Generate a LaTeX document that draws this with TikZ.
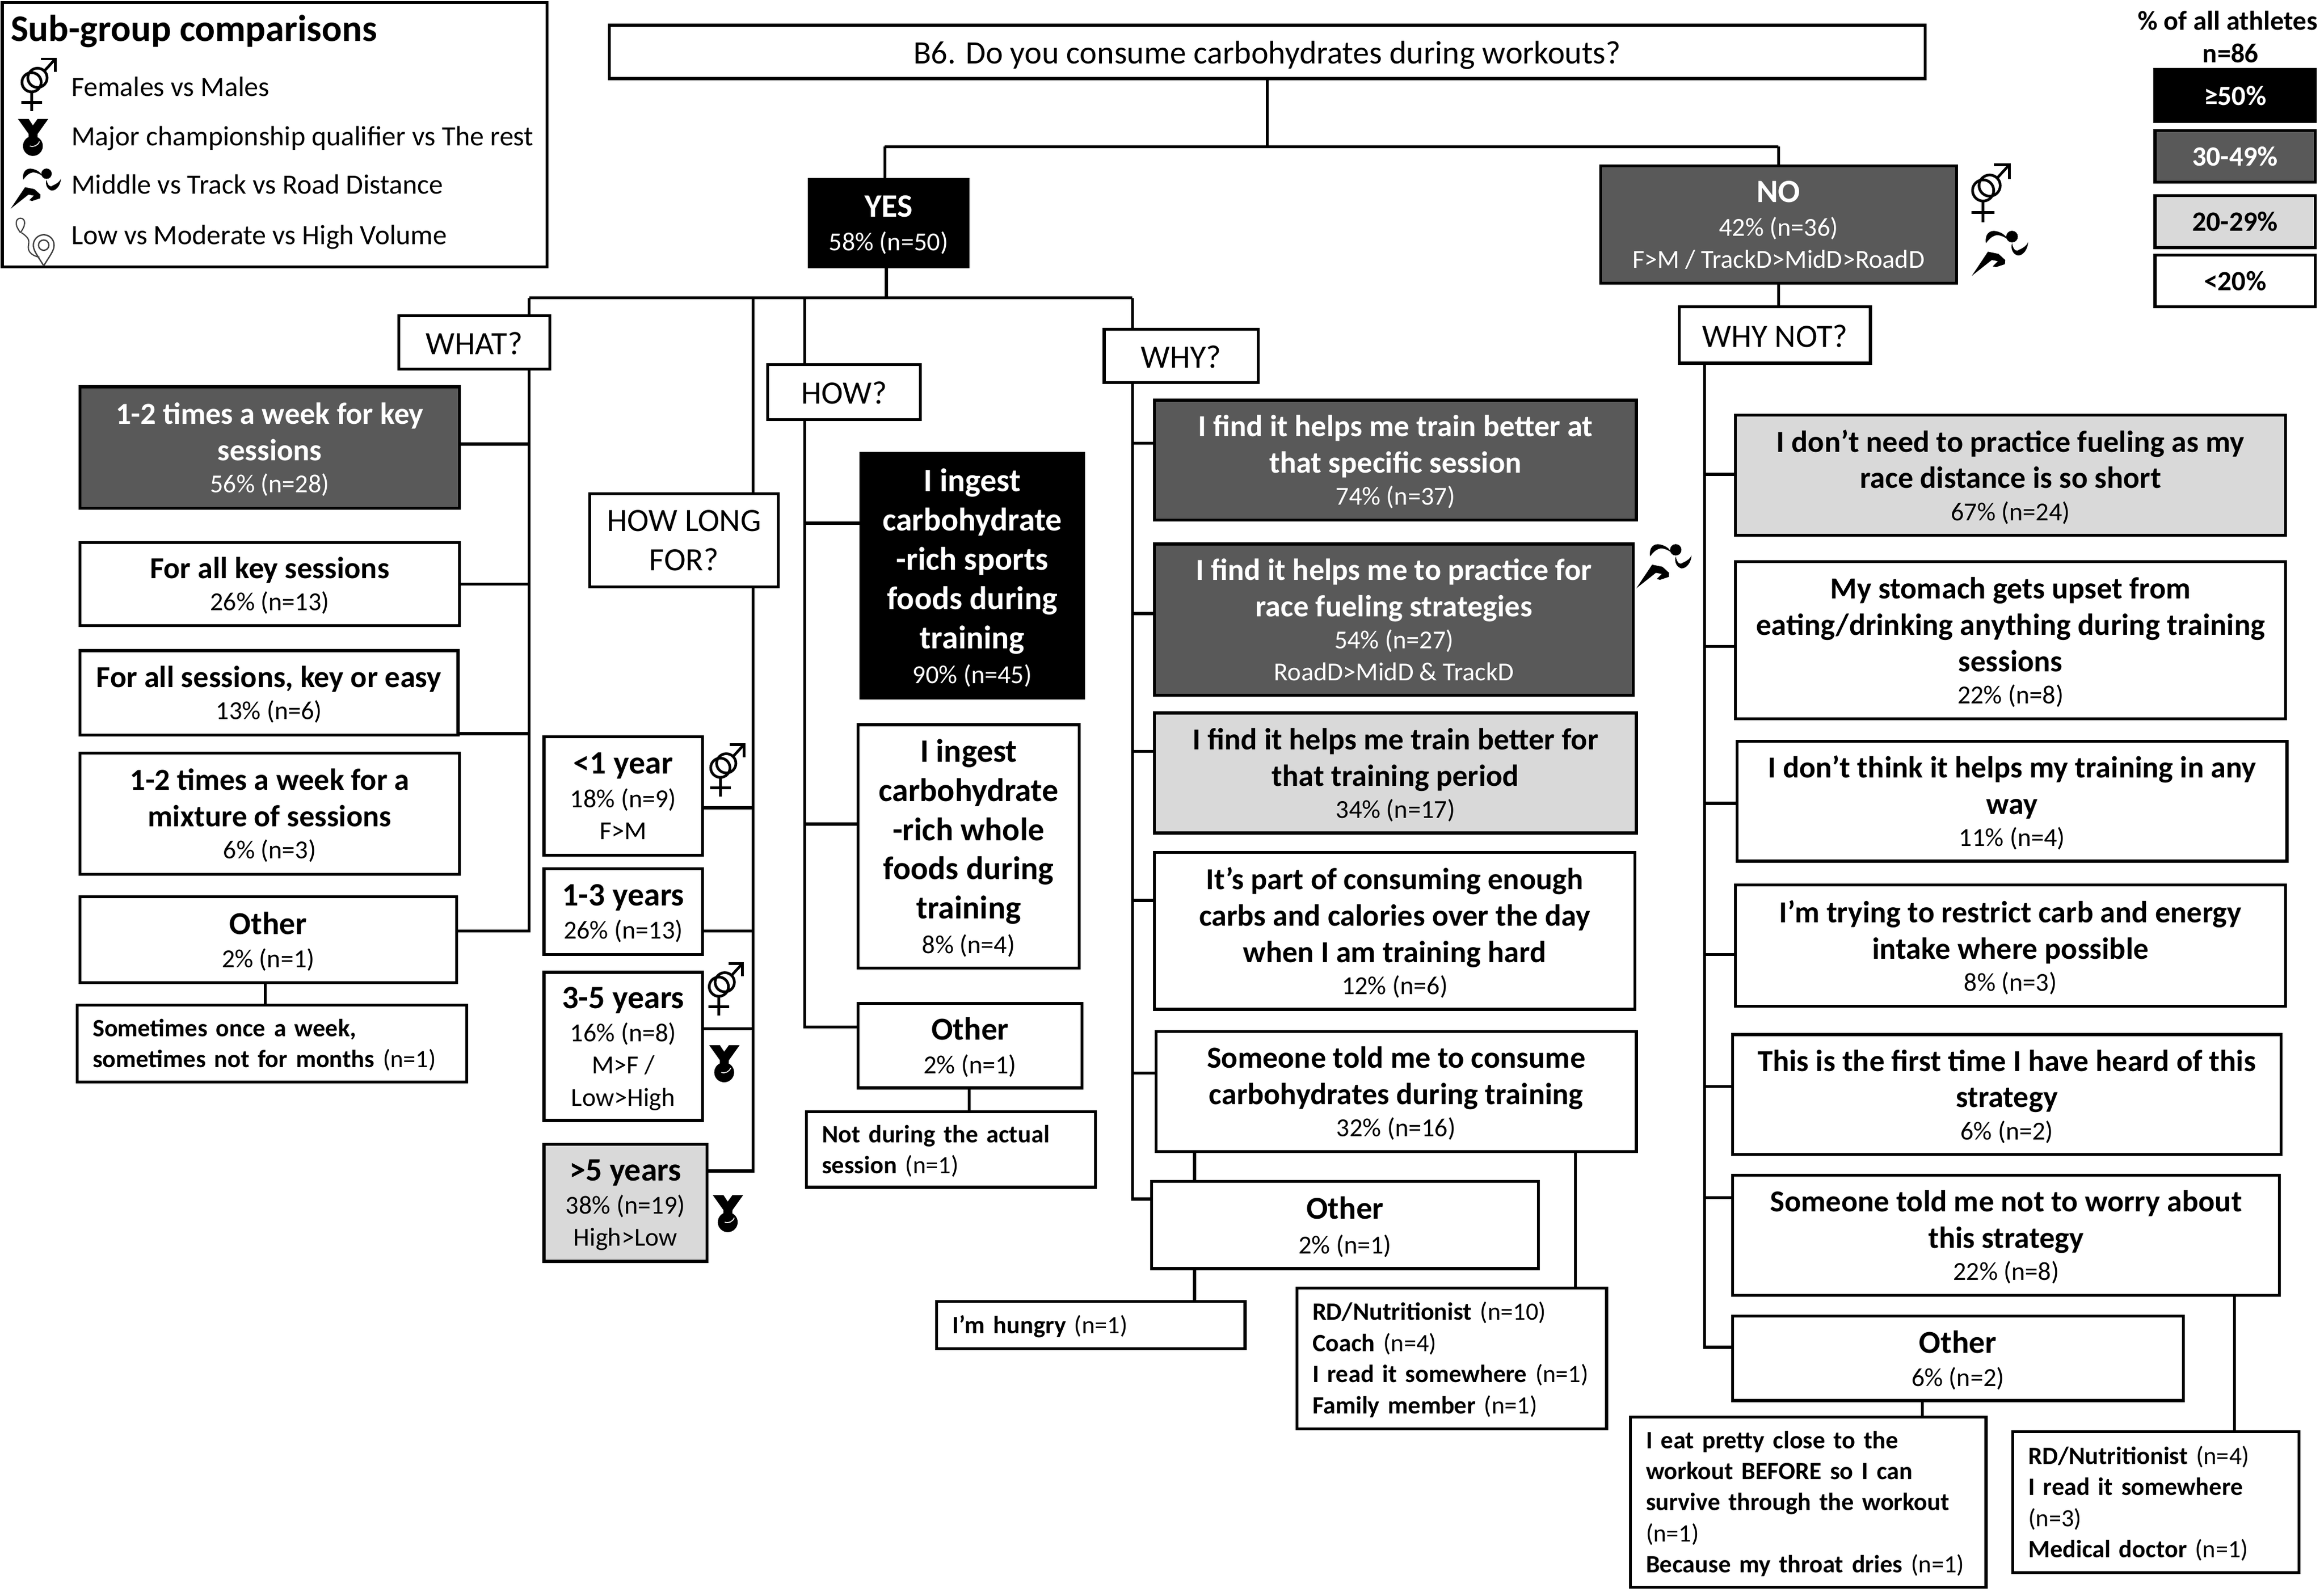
\documentclass[tikz,border=0pt]{standalone}
\usepackage{fontspec}
\setmainfont{Carlito}
\definecolor{DarkBand}{HTML}{595959}
\definecolor{LightBand}{HTML}{D9D9D9}
\newcommand{\pct}[1]{\smash{\fontsize{17.5}{20}\selectfont\mdseries #1}}
\newcommand{\nn}[1]{{\mdseries #1}}
\tikzset{
  corners/.style n args={4}{at={({(#1+#3)/2},{(#2+#4)/2})},minimum width={(#3-#1-2)*1pt},minimum height={(#4-#2-2)*1pt}},
  notecorners/.style n args={4}{corners={#1}{#2}{#3}{#4},text width={(#3-#1-23)*1pt}},
  link/.style={line width=2pt},
  tallybox/.style={draw=black,line width=2pt,inner sep=0pt,align=center,font=\fontsize{20.6}{24.6}\selectfont\bfseries},
  lvlblack/.style={tallybox,fill=black,text=white},
  lvldark/.style={tallybox,fill=DarkBand,text=white},
  lvllight/.style={tallybox,fill=LightBand},
  lvlwhite/.style={tallybox,fill=white},
  bigtext/.style={font=\fontsize{22}{24.6}\selectfont\bfseries},
  othertext/.style={font=\fontsize{21.6}{24.6}\selectfont\bfseries},
  steptext/.style={font=\fontsize{22}{26.5}\selectfont\bfseries},
  askbox/.style={tallybox,fill=white,font=\fontsize{22}{26.5}\selectfont,execute at begin node={\rule{0pt}{0.75em}}},
  notebox/.style={draw=black,line width=2pt,inner sep=0pt,align=left,fill=white,font=\fontsize{16.8}{21}\selectfont\bfseries,execute at begin node={\rule{0pt}{14pt}}},
  keytext/.style={anchor=west,inner sep=0pt,font=\fontsize{18.85}{22}\selectfont},
  scaletitle/.style={inner sep=0pt,font=\fontsize{18.4}{21}\selectfont\bfseries},
  scalebox/.style={tallybox,font=\fontsize{18.8}{21}\selectfont\bfseries},
  pics/gendersym/.style={code={
    \draw[line width=1.8pt] (0,0) circle[radius=6.5pt] (4,-3) circle[radius=6.5pt];
    \draw[line width=1.8pt] (8.6,-7.6) -- (16,-15.7);
    \draw[line width=1.8pt] (6.5,-15.7) -- (16,-15.7) -- (16,-7);
    \draw[line width=1.8pt] (0,6.5) -- (0,19.5) (-7,13.5) -- (7,13.5);
  }},
  pics/medalsym/.style={code={
    \fill (-10.1,-18.3) -- (-2.9,-18.3) -- (0,-13.9) -- (3.2,-18.3) -- (10.4,-18.3) -- (3.2,-8.2) -- (3,-5) -- (-3,-5) -- (-2.9,-8.2) -- cycle;
    \fill (0,0) circle[radius=6.7pt];
    \draw[white,line width=0.6pt] (4.4,-3) arc[start angle=-20,end angle=-110,radius=5pt];
  }},
  pics/runnersym/.style={code={
    \fill (24.2,3.6) circle[radius=3.5pt];
    \fill (8.5,7.6) .. controls (7.5,2) and (11,-0.5) .. (14.5,0.3) .. controls (18,1) and (20.5,3) .. (21.3,5) .. controls (18,2.8) and (15,2.2) .. (13.3,3.2) .. controls (11.5,4) and (10,5.5) .. (8.5,7.6) -- cycle;
    \fill (24.2,7.6) .. controls (25,12) and (27,13) .. (28.5,11.5) .. controls (31,10.5) and (33,9) .. (33.9,7) .. controls (33.5,12) and (30.5,15) .. (27.8,15) .. controls (25,14.5) and (23,11) .. (24.2,7.6) -- cycle;
    \fill (0,27.2) -- (9.7,12.7) -- (16,14) -- (20.1,17.7) -- (19.9,20.2) -- (14.5,22) -- (12.6,21.5) -- (15.7,18.4) -- (12,17.7) -- cycle;
  }},
  pics/routesym/.style={code={
    \draw[line width=0.8pt,black!75] (13.8,157) .. controls (11,153) and (10.8,151.5) .. (11,150) arc[start angle=180,end angle=0,radius=2.8pt] .. controls (16.6,151.5) and (16.5,153) .. (13.8,157);
    \draw[line width=0.8pt,black!75] (14.5,157) .. controls (19,160) and (20,162) .. (19.3,165) .. controls (18.5,169) and (20,172) .. (26.6,173.6);
    \draw[line width=0.9pt,black!75] (29.5,179.3) .. controls (25,172) and (22.5,169) .. (22.5,165.4) arc[start angle=180,end angle=0,radius=7pt] .. controls (36.5,169) and (34,172) .. (29.5,179.3);
    \draw[line width=0.9pt,black!75] (29.5,165.4) circle[radius=3.5pt];
  }},
}
\begin{document}
\begin{tikzpicture}[x=1pt,y=-1pt]
  \useasboundingbox (0,0) rectangle (1568,1073.8);
  % legend, top left
  \node[draw=black,line width=2pt,inner sep=0pt,corners={0.5}{0.8}{370}{181}] (keyframe) {};
  \node[anchor=west,inner sep=0pt,font=\fontsize{25.3}{28}\selectfont\bfseries] (keytitle) at (7,21) {Sub-group comparisons};
  \node[keytext] (keyfem) at (48,58.5) {Females vs Males};
  \node[keytext] (keymajor) at (48,93.5) {Major championship qualifier vs The rest};
  \node[keytext] (keydist) at (48,124.5) {Middle vs Track vs Road Distance};
  \node[keytext] (keyvol) at (48,160) {Low vs Moderate vs High Volume};
  \pic at (21.3,55.5) {gendersym};
  \pic at (22.2,98.5) {medalsym};
  \pic at (7.2,113.6) {runnersym};
  \pic at (0,0) {routesym};
  % legend, top right
  \node[scaletitle] (scalehead) at (1503,14) {\% of all athletes};
  \node[scaletitle] (scalen) at (1505,36) {n=86};
  \node[scalebox,fill=black,text=white,corners={1453}{46}{1563}{83}] (scalea) {≥50\%};
  \node[scalebox,fill=DarkBand,text=white,corners={1453}{87}{1563}{124}] (scaleb) {30-49\%};
  \node[scalebox,fill=LightBand,corners={1453}{131}{1563}{168}] (scalec) {20-29\%};
  \node[scalebox,fill=white,corners={1453}{171}{1563}{208}] (scaled) {<20\%};
  % question and answers
  \node[askbox,corners={410}{16}{1300}{54},execute at begin node={\rule{0pt}{0.9em}}] (question) {B6. Do you consume carbohydrates during workouts?};
  \node[lvlblack,bigtext,corners={545}{120}{654}{181}] (yes) {YES\\[-2pt]\pct{58\% (n=50)}};
  \node[lvldark,bigtext,corners={1079}{111}{1321}{192}] (no) {NO\\[-2pt]\pct{42\% (n=36)}\\[-3pt]\pct{F>M / TrackD>MidD>RoadD}};
  \pic[scale=1.1] at (1338,128.5) {gendersym};
  \pic[scale=1.12] at (1330.4,155.6) {runnersym};
  % WHAT?
  \node[askbox,corners={268}{212}{372}{250}] (what) {WHAT?};
  \node[lvldark,corners={53}{260}{311}{344}] (whatA) {1-2 times a week for key\\sessions\\[-3pt]\pct{56\% (n=28)}};
  \node[lvlwhite,corners={53}{365}{311}{423}] (whatB) {For all key sessions\\[-3pt]\pct{26\% (n=13)}};
  \node[lvlwhite,corners={53}{438}{310}{497}] (whatC) {For all sessions, key or easy\\[-3pt]\pct{13\% (n=6)}};
  \node[lvlwhite,corners={53}{507}{311}{591}] (whatD) {1-2 times a week for a\\mixture of sessions\\[-3pt]\pct{6\% (n=3)}};
  \node[lvlwhite,othertext,corners={53}{604}{309}{664}] (whatE) {Other\\[-2pt]\pct{2\% (n=1)}};
  \node[notebox,notecorners={51}{677}{316}{731}] (whatnote) {Sometimes once a week,\\sometimes not for months \nn{(n=1)}};
  % HOW LONG FOR?
  \node[askbox,corners={397}{332}{526}{397}] (howlong) {HOW LONG\\FOR?};
  \node[lvlwhite,bigtext,corners={366}{496}{475}{578}] (longA) {<1 year\\[-2pt]\pct{18\% (n=9)}\\[-3pt]\pct{F>M}};
  \node[lvlwhite,bigtext,corners={366}{585}{475}{645}] (longB) {1-3 years\\[-2pt]\pct{26\% (n=13)}};
  \node[lvlwhite,bigtext,corners={366}{655}{475}{757}] (longC) {3-5 years\\[-2pt]\pct{16\% (n=8)}\\[-3pt]\pct{M>F /}\\[-3pt]\pct{Low>High}};
  \node[lvllight,bigtext,corners={366}{771}{478}{852}] (longD) {>5 years\\[-2pt]\pct{38\% (n=19)}\\[-3pt]\pct{High>Low}};
  \pic at (486,518) {gendersym};
  \pic at (485,665.7) {gendersym};
  \pic at (488.6,723.5) {medalsym};
  \pic at (491,824.6) {medalsym};
  % HOW?
  \node[askbox,corners={517}{245}{622}{284}] (how) {HOW?};
  \node[lvlblack,steptext,corners={580}{305}{732}{472}] (howA) {I ingest\\carbohydrate\\-rich sports\\foods during\\training\\[-3pt]\pct{90\% (n=45)}};
  \node[lvlwhite,steptext,corners={578}{488}{729}{654}] (howB) {I ingest\\carbohydrate\\-rich whole\\foods during\\training\\[-3pt]\pct{8\% (n=4)}};
  \node[lvlwhite,othertext,corners={578}{676}{731}{735}] (howC) {Other\\[-2pt]\pct{2\% (n=1)}};
  \node[notebox,notecorners={543}{749}{740}{802}] (hownote) {Not during the actual\\session \nn{(n=1)}};
  % WHY?
  \node[askbox,corners={744}{221}{850}{259}] (why) {WHY?};
  \node[lvldark,corners={778}{269}{1105}{352}] (whyA) {I find it helps me train better at\\that specific session\\[-3pt]\pct{74\% (n=37)}};
  \node[lvldark,corners={778}{366}{1103}{470}] (whyB) {I find it helps me to practice for\\race fueling strategies\\[-3pt]\pct{54\% (n=27)}\\[-3pt]\pct{RoadD>MidD \& TrackD}};
  \node[lvllight,corners={778}{480}{1105}{563}] (whyC) {I find it helps me train better for\\that training period\\[-3pt]\pct{34\% (n=17)}};
  \node[lvlwhite,corners={778}{574}{1104}{682}] (whyD) {It’s part of consuming enough\\carbs and calories over the day\\when I am training hard\\[-3pt]\pct{12\% (n=6)}};
  \node[lvlwhite,corners={779}{695}{1105}{778}] (whyE) {Someone told me to consume\\carbohydrates during training\\[-3pt]\pct{32\% (n=16)}};
  \node[lvlwhite,corners={776}{796}{1039}{857},font=\fontsize{21.5}{25.5}\selectfont\bfseries] (whyF) {Other\\[-2pt]\pct{2\% (n=1)}};
  \node[notebox,notecorners={631}{877}{841}{911}] (whyhungry) {I’m hungry \nn{(n=1)}};
  \node[notebox,notecorners={874}{868}{1085}{965}] (whytold) {RD/Nutritionist \nn{(n=10)}\\Coach \nn{(n=4)}\\I read it somewhere \nn{(n=1)}\\Family member \nn{(n=1)}};
  \pic[scale=1.1] at (1104,367) {runnersym};
  % WHY NOT?
  \node[askbox,corners={1132}{206}{1263}{246}] (whynot) {WHY NOT?};
  \node[lvllight,corners={1170}{279}{1543}{362}] (notA) {I don’t need to practice fueling as my\\race distance is so short\\[-3pt]\pct{67\% (n=24)}};
  \node[lvlwhite,corners={1170}{378}{1543}{486}] (notB) {My stomach gets upset from\\eating/drinking anything during training\\sessions\\[-3pt]\pct{22\% (n=8)}};
  \node[lvlwhite,corners={1171}{499}{1544}{582}] (notC) {I don’t think it helps my training in any\\way\\[-3pt]\pct{11\% (n=4)}};
  \node[lvlwhite,corners={1170}{596}{1543}{680}] (notD) {I’m trying to restrict carb and energy\\intake where possible\\[-3pt]\pct{8\% (n=3)}};
  \node[lvlwhite,corners={1168}{697}{1540}{780}] (notE) {This is the first time I have heard of this\\strategy\\[-3pt]\pct{6\% (n=2)}};
  \node[lvlwhite,corners={1168}{792}{1539}{875}] (notF) {Someone told me not to worry about\\this strategy\\[-3pt]\pct{22\% (n=8)}};
  \node[lvlwhite,othertext,corners={1168}{887}{1474}{946}] (notG) {Other\\[-2pt]\pct{6\% (n=2)}};
  \node[notebox,notecorners={1099}{955}{1341}{1072}] (noteat) {I eat pretty close to the\\workout BEFORE so I can\\survive through the workout\\\nn{(n=1)}\\Because my throat dries \nn{(n=1)}};
  \node[notebox,notecorners={1357}{965}{1552}{1062}] (notold) {RD/Nutritionist \nn{(n=4)}\\I read it somewhere\\\nn{(n=3)}\\Medical doctor \nn{(n=1)}};
  % connectors
  \coordinate (hub) at (855,99);
  \coordinate (yeshub) at (597,99);
  \coordinate (nohub) at (1200,99);
  \coordinate (yesdrop) at (598,201);
  \coordinate (whattop) at (357,201);
  \coordinate (longtop) at (508,201);
  \coordinate (howtop) at (543,201);
  \coordinate (whytop) at (764,201);
  \coordinate (whatend) at (357,629);
  \coordinate (longend) at (508,791);
  \coordinate (howend) at (543,694);
  \coordinate (whyend) at (764,810);
  \coordinate (notend) at (1150,910);
  \draw[link] (question.south) -- (hub);
  \draw[link] (yeshub) -- (nohub);
  \draw[link] (yeshub) -- (yes.north -| yeshub);
  \draw[link] (nohub) -- (no.north -| nohub);
  \draw[link] (yes.south -| yesdrop) -- (yesdrop);
  \draw[link] (whattop) -- (whytop);
  \draw[link] (no.south -| nohub) -- (whynot.north -| nohub);
  \draw[link] (whattop) -- (what.north -| whattop) (what.south -| whattop) -- (whatend);
  \draw[link] (longtop) -- (howlong.north -| longtop) (howlong.south -| longtop) -- (longend);
  \draw[link] (howtop) -- (how.north -| howtop) (how.south -| howtop) -- (howend);
  \draw[link] (whytop) -- (why.north -| whytop) (why.south -| whytop) -- (whyend);
  \draw[link] (whynot.south -| notend) -- (notend);
  \foreach \b/\y in {whatA/299.6,whatB/394,whatC/495,whatE/628}
    \draw[link] (\b.east |- 0,\y) -- (whatend |- 0,\y);
  \foreach \b/\y in {longA/545,longB/628,longC/694,longD/790}
    \draw[link] (\b.east |- 0,\y) -- (longend |- 0,\y);
  \foreach \b/\y in {howA/353,howB/556,howC/693}
    \draw[link] (\b.west |- 0,\y) -- (howend |- 0,\y);
  \foreach \b/\y in {whyA/299,whyB/414,whyC/507,whyD/607.5,whyE/724,whyF/809}
    \draw[link] (\b.west |- 0,\y) -- (whyend |- 0,\y);
  \foreach \b/\y in {notA/320,notB/436,notC/542,notD/644,notE/733,notF/808,notG/909}
    \draw[link] (\b.west |- 0,\y) -- (notend |- 0,\y);
  \draw[link] (whatE.south -| 179,0) -- (whatnote.north -| 179,0);
  \draw[link] (howC.south -| 654,0) -- (hownote.north -| 654,0);
  \draw[link] (whyE.south -| 806,0) -- (whyF.north -| 806,0);
  \draw[link] (whyF.south -| 806,0) -- (whyhungry.north -| 806,0);
  \draw[link] (whyE.south -| 1063,0) -- (whytold.north -| 1063,0);
  \draw[link] (notG.south -| 1297,0) -- (noteat.north -| 1297,0);
  \draw[link] (notF.south -| 1507.5,0) -- (notold.north -| 1507.5,0);
\end{tikzpicture}
\end{document}
